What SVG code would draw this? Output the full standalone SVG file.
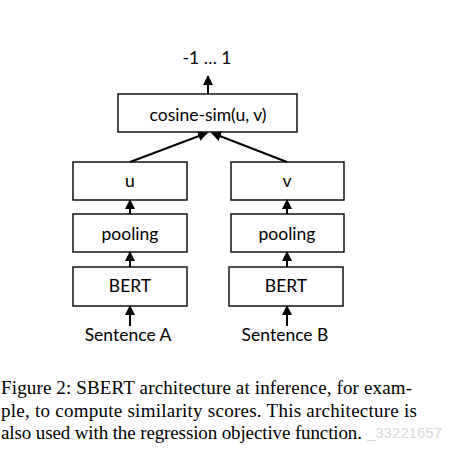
<svg xmlns="http://www.w3.org/2000/svg" width="453" height="451" viewBox="0 0 453 451">
<defs>
<style>
.box{fill:#fff;stroke:#000;stroke-width:1.4}
.lbl{font-family:Lato,"Open Sans",sans-serif;font-size:17.5px;fill:#000;text-anchor:middle}
.edge{stroke:#000;stroke-width:2;fill:none}
.cap{font-family:"Liberation Serif","Times New Roman",serif;font-size:19px;fill:#000}
</style>
<marker id="ah" markerWidth="10" markerHeight="10" refX="9" refY="5" orient="auto" markerUnits="userSpaceOnUse" viewBox="0 0 10 10">
<path d="M0,0 L10,5 L0,10 z" fill="#000"/>
</marker>
</defs>
<rect width="453" height="451" fill="#fff"/>
<text x="207" y="64" class="lbl" id="out">-1 … 1</text>
<g id="cos"><rect class="box" x="118" y="94" width="179" height="38"/><text class="lbl" x="208" y="121">cosine-sim(u, v)</text></g>
<g id="u"><rect class="box" x="73" y="162" width="114" height="38"/><text class="lbl" x="130" y="187">u</text></g>
<g id="v"><rect class="box" x="231" y="162" width="113" height="38"/><text class="lbl" x="287" y="187">v</text></g>
<g id="poolA"><rect class="box" x="73" y="214" width="114" height="38"/><text class="lbl" x="130" y="240">pooling</text></g>
<g id="poolB"><rect class="box" x="231" y="214" width="113" height="38"/><text class="lbl" x="287" y="240">pooling</text></g>
<g id="bertA"><rect class="box" x="73" y="267" width="114" height="39"/><text class="lbl" x="130" y="292">BERT</text></g>
<g id="bertB"><rect class="box" x="229" y="267" width="114" height="39"/><text class="lbl" x="286" y="292">BERT</text></g>
<g id="sentA"><text class="lbl" x="128" y="341">Sentence A</text></g>
<g id="sentB"><text class="lbl" x="285" y="341">Sentence B</text></g>
<g id="connectors">
<line class="edge" x1="208" y1="94" x2="208" y2="76" marker-end="url(#ah)"/>
<line class="edge" x1="130" y1="162" x2="207" y2="133" marker-end="url(#ah)"/>
<line class="edge" x1="287" y1="162" x2="212" y2="133" marker-end="url(#ah)"/>
<line class="edge" x1="130" y1="214" x2="130" y2="200" marker-end="url(#ah)"/>
<line class="edge" x1="287" y1="214" x2="287" y2="200" marker-end="url(#ah)"/>
<line class="edge" x1="130" y1="267" x2="130" y2="252" marker-end="url(#ah)"/>
<line class="edge" x1="287" y1="267" x2="287" y2="252" marker-end="url(#ah)"/>
<line class="edge" x1="130" y1="326" x2="130" y2="306" marker-end="url(#ah)"/>
<line class="edge" x1="287" y1="326" x2="287" y2="306" marker-end="url(#ah)"/>
</g>
<text x="442" y="438" text-anchor="end" font-family="Liberation Sans,Arial,sans-serif" font-size="15" fill="#d9d9d9">_33221657</text>
<g id="caption">
<text class="cap" x="1" y="394" textLength="411" lengthAdjust="spacing">Figure 2:  SBERT architecture at inference, for exam-</text>
<text class="cap" x="1" y="417" textLength="416" lengthAdjust="spacing">ple, to compute similarity scores.  This architecture is</text>
<text class="cap" x="1" y="439" textLength="361" lengthAdjust="spacing">also used with the regression objective function.</text>
</g>
</svg>
